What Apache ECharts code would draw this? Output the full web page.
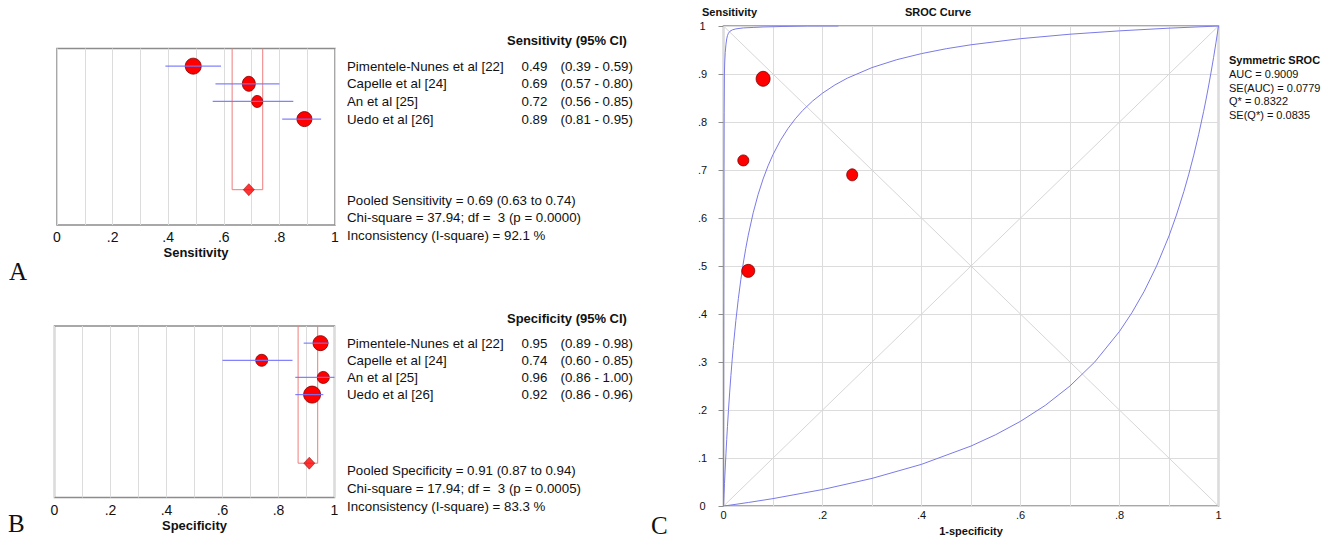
<!DOCTYPE html>
<html><head><meta charset="utf-8">
<script src="https://cdn.jsdelivr.net/npm/echarts@6/dist/echarts.min.js"></script>
<style>html,body{margin:0;padding:0;background:#fff}#c{width:1330px;height:541px}</style>
</head><body><div id="c"></div>
<script>
// ---------- data ----------
const studies = ['Pimentele-Nunes et al [22]', 'Capelle et al [24]', 'An et al [25]', 'Uedo et al [26]'];
const sensValue = [0.49, 0.69, 0.72, 0.89];
const sensLow   = [0.39, 0.57, 0.56, 0.81];
const sensHigh  = [0.59, 0.80, 0.85, 0.95];
const sensPooled = [0.69, 0.63, 0.74];
const sensStats = ['Pooled Sensitivity = 0.69 (0.63 to 0.74)', 'Chi-square = 37.94; df =  3 (p = 0.0000)', 'Inconsistency (I-square) = 92.1 %'];
const specValue = [0.95, 0.74, 0.96, 0.92];
const specLow   = [0.89, 0.60, 0.86, 0.86];
const specHigh  = [0.98, 0.85, 1.00, 0.96];
const specPooled = [0.91, 0.87, 0.94];
const specStats = ['Pooled Specificity = 0.91 (0.87 to 0.94)', 'Chi-square = 17.94; df =  3 (p = 0.0005)', 'Inconsistency (I-square) = 83.3 %'];
const srocStats = ['Symmetric SROC', 'AUC = 0.9009', 'SE(AUC) = 0.0779', 'Q* = 0.8322', 'SE(Q*) = 0.0835'];
const forestTickLabels = ['0', '.2', '.4', '.6', '.8', '1'];
const srocXTickLabels = ['0', '.2', '.4', '.6', '.8', '1'];
const srocYTickLabels = ['0', '.1', '.2', '.3', '.4', '.5', '.6', '.7', '.8', '.9', '1'];
// SROC curves: [1-specificity, sensitivity]
const srocMid = [[0,0],[0.0005,0.0122],[0.001,0.0240],[0.0015,0.0356],[0.002,0.0470],[0.003,0.0689],[0.004,0.0899],[0.005,0.1100],[0.0065,0.1386],[0.008,0.1655],[0.01,0.1990],[0.0125,0.2375],[0.015,0.2725],[0.0175,0.3047],[0.02,0.3342],[0.025,0.3868],[0.03,0.4321],[0.035,0.4715],[0.04,0.5062],[0.045,0.5369],[0.05,0.5642],[0.06,0.6109],[0.07,0.6493],[0.08,0.6814],[0.09,0.7087],[0.1,0.7321],[0.115,0.7617],[0.13,0.7861],[0.145,0.8066],[0.16,0.8241],[0.18,0.8437],[0.2,0.8601],[0.225,0.8772],[0.25,0.8913],[0.3,0.9134],[0.35,0.9298],[0.4,0.9425],[0.45,0.9527],[0.5,0.9609],[0.6,0.9736],[0.7,0.9829],[0.8,0.9899],[0.9,0.9955],[1,1]];
const srocLow = [[0,0],[0.05,0.0075],[0.1,0.0156],[0.2,0.0345],[0.3,0.0577],[0.4,0.0870],[0.5,0.1251],[0.55,0.1488],[0.6,0.1766],[0.65,0.2098],[0.7,0.2502],[0.75,0.3002],[0.8,0.3639],[0.825,0.4027],[0.85,0.4476],[0.875,0.5003],[0.9,0.5627],[0.915,0.6062],[0.93,0.6552],[0.94,0.6914],[0.95,0.7310],[0.96,0.7744],[0.97,0.8222],[0.975,0.8480],[0.98,0.8751],[0.985,0.9038],[0.99,0.9340],[0.995,0.9661],[1,1]];
const srocHigh = [[0,0],[0.0004,0.4],[0.0008,0.7],[0.0012,0.82],[0.0018,0.9],[0.0025,0.925],[0.0035,0.945],[0.005,0.962],[0.0065,0.973],[0.008,0.980],[0.01,0.985],[0.013,0.989],[0.018,0.992],[0.025,0.994],[0.04,0.996],[0.06,0.997],[0.08,0.998],[0.12,0.999],[0.17,1.0],[0.232,1.0]];
// marker sizes (study weights)
const sensMarker = [[16,16],[13,15],[11,12],[15,15]];
const specMarker = [[15,15],[12,12],[12,12],[17,17]];
const srocMarker = [[13,13],[11,12],[11,11],[14,15]];

// ---------- styles ----------
const FONT = '"Liberation Sans", Arial, sans-serif';
const RED = '#ff0000', RED_BORDER = '#7a0000';
const CI_BLUE = '#7474ff', CURVE_BLUE = '#7a7ae8', POOL_RED = '#f07c7c';
const GRIDC = '#dcdcdc', BORDER = '#8c8c8c';

const chart = echarts.init(document.getElementById('c'), null, {renderer: 'svg'});

function forestFmt(v) { const i = Math.round(v * 10); return i % 2 ? '' : forestTickLabels[i / 2]; }
function srocXFmt(v) { const i = Math.round(v * 10); return i % 2 ? '' : srocXTickLabels[i / 2]; }
function srocYFmt(v) { return srocYTickLabels[Math.round(v * 10)]; }

function forestX(gi, name) {
  return {gridIndex: gi, type: 'value', min: 0, max: 1, interval: 0.1,
    axisLine: {show: false}, axisTick: {show: false},
    splitLine: {show: true, lineStyle: {color: GRIDC, width: 1}},
    axisLabel: {formatter: forestFmt, fontSize: 14, margin: 5, color: '#111', fontFamily: FONT},
    name: name, nameLocation: 'middle', nameGap: 21,
    nameTextStyle: {fontWeight: 'bold', fontSize: 13, color: '#111', fontFamily: FONT}};
}
function forestY(gi) { return {gridIndex: gi, type: 'value', min: 0, max: 10, inverse: true, show: false}; }

function forestSeries(gi, val, lo, hi, pooled, marker) {
  return [
    {type: 'custom', xAxisIndex: gi, yAxisIndex: gi, silent: true, z: 1,
      data: [[pooled[1], pooled[2]]], encode: {x: [0, 1]},
      renderItem: (p, api) => {
        const a = api.coord([api.value(0), 0]), b = api.coord([api.value(0), 8]);
        const c = api.coord([api.value(1), 8]), d = api.coord([api.value(1), 0]);
        return {type: 'polyline', shape: {points: [a, b, c, d]}, style: {stroke: POOL_RED, lineWidth: 1, fill: null}};
      }},
    {type: 'scatter', xAxisIndex: gi, yAxisIndex: gi, z: 3, symbol: 'circle',
      data: val.map((v, i) => ({value: [v, i + 1], symbolSize: marker[i]})),
      itemStyle: {color: RED, borderColor: RED_BORDER, borderWidth: 0.8, opacity: 1}},
    {type: 'custom', xAxisIndex: gi, yAxisIndex: gi, silent: true, z: 4,
      data: val.map((v, i) => [lo[i], hi[i], i + 1]), encode: {x: [0, 1], y: 2},
      renderItem: (p, api) => {
        const a = api.coord([api.value(0), api.value(2)]), b = api.coord([api.value(1), api.value(2)]);
        return {type: 'line', shape: {x1: a[0], y1: a[1], x2: b[0], y2: b[1]}, style: {stroke: CI_BLUE, lineWidth: 1.2, opacity: 0.9}};
      }},
    {type: 'scatter', xAxisIndex: gi, yAxisIndex: gi, z: 5, symbol: 'diamond', symbolSize: [11, 12],
      data: [[pooled[0], 8]], itemStyle: {color: RED, borderColor: RED_BORDER, borderWidth: 0.6}}
  ];
}

const option = {
  animation: false,
  backgroundColor: '#fff',
  textStyle: {fontFamily: FONT},
  grid: [
    {left: 57, top: 48.5, width: 278, height: 176.5, show: true, borderColor: BORDER, borderWidth: 1.5, backgroundColor: 'transparent'},
    {left: 54.5, top: 326, width: 280, height: 171.5, show: true, borderColor: BORDER, borderWidth: 1.5, backgroundColor: 'transparent'},
    {left: 723.5, top: 26, width: 495, height: 484.5, show: true, borderColor: BORDER, borderWidth: 1.5, backgroundColor: 'transparent'}
  ],
  xAxis: [
    forestX(0, 'Sensitivity'),
    forestX(1, 'Specificity'),
    {gridIndex: 2, type: 'value', min: 0, max: 1, interval: 0.1,
      axisLine: {show: false}, axisTick: {show: false},
      splitLine: {show: true, lineStyle: {color: GRIDC, width: 1}},
      axisLabel: {formatter: srocXFmt, fontSize: 11, margin: 3, color: '#111', fontFamily: FONT},
      name: '1-specificity', nameLocation: 'middle', nameGap: 17,
      nameTextStyle: {fontWeight: 'bold', fontSize: 11, color: '#111', fontFamily: FONT}}
  ],
  yAxis: [
    forestY(0), forestY(1),
    {gridIndex: 2, type: 'value', min: 0, max: 1, interval: 0.1,
      axisLine: {show: false},
      axisTick: {show: true, length: 5, lineStyle: {color: BORDER}},
      splitLine: {show: true, lineStyle: {color: GRIDC, width: 1}},
      axisLabel: {formatter: srocYFmt, fontSize: 11, margin: 21, align: 'center', color: '#111', fontFamily: FONT}}
  ],
  series: [
    ...forestSeries(0, sensValue, sensLow, sensHigh, sensPooled, sensMarker),
    ...forestSeries(1, specValue, specLow, specHigh, specPooled, specMarker),
    {type: 'line', xAxisIndex: 2, yAxisIndex: 2, symbol: 'none', silent: true, z: 1,
      data: [[0, 0], [1, 1]], lineStyle: {color: '#d6d6d6', width: 1}},
    {type: 'line', xAxisIndex: 2, yAxisIndex: 2, symbol: 'none', silent: true, z: 1,
      data: [[0, 1], [1, 0]], lineStyle: {color: '#d6d6d6', width: 1}},
    {type: 'line', xAxisIndex: 2, yAxisIndex: 2, symbol: 'none', silent: true, z: 2,
      data: srocMid, lineStyle: {color: CURVE_BLUE, width: 1}},
    {type: 'line', xAxisIndex: 2, yAxisIndex: 2, symbol: 'none', silent: true, z: 2,
      data: srocLow, lineStyle: {color: CURVE_BLUE, width: 1}},
    {type: 'line', xAxisIndex: 2, yAxisIndex: 2, symbol: 'none', silent: true, z: 2,
      data: srocHigh, lineStyle: {color: CURVE_BLUE, width: 1}},
    {type: 'scatter', xAxisIndex: 2, yAxisIndex: 2, z: 5, symbol: 'circle',
      data: studies.map((s, i) => ({value: [+(1 - specValue[i]).toFixed(2), sensValue[i]], symbolSize: srocMarker[i]})),
      itemStyle: {color: RED, borderColor: RED_BORDER, borderWidth: 0.8, opacity: 1}}
  ]
};
chart.setOption(option);

// ---------- text tables placed through the row scales ----------
function rowY(gi, row) { return chart.convertToPixel({xAxisIndex: gi, yAxisIndex: gi}, [0, row])[1]; }
function txt(x, y, text, size, bold, family) {
  return {type: 'text', x: x, y: y, silent: true,
    style: {text: text, fill: '#111', align: 'left', verticalAlign: 'middle',
      font: (bold ? 'bold ' : '') + size + 'px ' + (family || FONT)}};
}
const graphics = [];
function table(gi, header, val, lo, hi, stats, statRows) {
  graphics.push(txt(507, rowY(gi, -0.45), header, 13, true));
  studies.forEach((s, i) => {
    const y = rowY(gi, i + 1);
    graphics.push(txt(347, y, s, 13.3));
    graphics.push(txt(521.5, y, val[i].toFixed(2), 13.3));
    graphics.push(txt(560.5, y, '(' + lo[i].toFixed(2) + ' - ' + hi[i].toFixed(2) + ')', 13.3));
  });
  stats.forEach((s, i) => graphics.push(txt(347, rowY(gi, statRows[i]), s, 13.3)));
}
table(0, 'Sensitivity (95% CI)', sensValue, sensLow, sensHigh, sensStats, [8.6, 9.6, 10.6]);
table(1, 'Specificity (95% CI)', specValue, specLow, specHigh, specStats, [8.4, 9.45, 10.5]);
// SROC panel labels
graphics.push(txt(702, 11.5, 'Sensitivity', 11, true));
graphics.push(txt(905, 11.5, 'SROC Curve', 11, true));
srocStats.forEach((s, i) => graphics.push(txt(1229, 60 + i * 13.8, s, 11, i === 0)));
// panel letters
const SERIF = '"Liberation Serif", "Times New Roman", serif';
graphics.push(txt(9, 271.5, 'A', 25, false, SERIF));
graphics.push(txt(8, 523, 'B', 25, false, SERIF));
graphics.push(txt(651, 525, 'C', 25, false, SERIF));
chart.setOption({graphic: graphics});
</script></body></html>
